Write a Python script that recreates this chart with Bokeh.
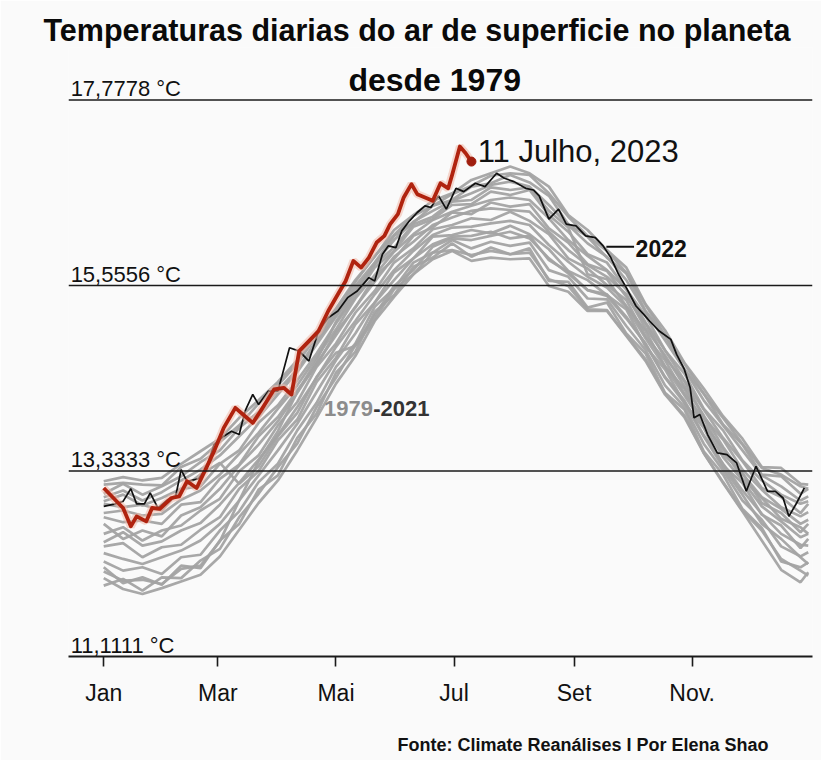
from bokeh.plotting import figure
from bokeh.models import Range1d, FixedTicker, Label, Span, Title
from bokeh.embed import file_html
from bokeh.resources import INLINE

# ---------------- data ----------------
# day of year (0 = 1 Jan)
gray_days = [0, 10, 20, 30, 40, 50, 60, 70, 80, 90, 100, 110, 120, 130, 140, 150, 160, 170, 180,
             190, 200, 210, 220, 230, 240, 250, 260, 270, 280, 290, 300, 310, 320, 330, 340, 350, 360, 364]

g01 = [12.05, 11.92, 11.86, 11.93, 12.01, 12.09, 12.31, 12.63, 12.95, 13.22, 13.58, 13.97, 14.38, 14.71, 15.13, 15.42, 15.69, 15.87, 15.97,
       15.85, 15.89, 15.87, 15.88, 15.55, 15.48, 15.25, 15.25, 14.95, 14.65, 14.25, 13.98, 13.55, 13.19, 12.85, 12.50, 12.15, 12.00, 12.12]
g02 = [12.25, 12.14, 12.18, 12.10, 12.30, 12.33, 12.62, 12.85, 13.20, 13.42, 13.82, 14.15, 14.58, 14.86, 15.30, 15.52, 15.83, 15.95, 16.10,
       16.00, 16.08, 16.03, 16.07, 15.74, 15.66, 15.40, 15.39, 15.07, 14.78, 14.36, 14.10, 13.66, 13.34, 12.98, 12.75, 12.43, 12.31, 12.36]
g03 = [12.43, 12.47, 12.30, 12.42, 12.45, 12.63, 12.78, 13.12, 13.33, 13.70, 13.95, 14.40, 14.69, 15.09, 15.35, 15.71, 15.88, 16.14, 16.16,
       16.22, 16.18, 16.27, 16.17, 15.99, 15.73, 15.62, 15.44, 15.27, 14.82, 14.55, 14.15, 13.85, 13.40, 13.19, 12.81, 12.68, 12.41, 12.52]
g04 = [12.58, 12.66, 12.50, 12.62, 12.68, 12.86, 13.00, 13.33, 13.52, 13.88, 14.16, 14.58, 14.86, 15.23, 15.49, 15.83, 16.00, 16.23, 16.28,
       16.36, 16.34, 16.44, 16.33, 16.17, 15.88, 15.76, 15.56, 15.38, 14.95, 14.66, 14.26, 13.96, 13.54, 13.31, 12.95, 12.83, 12.60, 12.70]
g05 = [12.78, 12.72, 12.74, 12.70, 12.93, 12.96, 13.24, 13.41, 13.75, 13.98, 14.30, 14.60, 15.00, 15.29, 15.66, 15.87, 16.15, 16.25, 16.43,
       16.41, 16.55, 16.50, 16.53, 16.24, 16.07, 15.81, 15.73, 15.42, 15.10, 14.69, 14.41, 13.98, 13.71, 13.35, 13.11, 12.90, 12.79, 12.84]
g06 = [12.94, 12.90, 12.93, 12.86, 13.12, 13.15, 13.42, 13.58, 13.91, 14.12, 14.42, 14.74, 15.10, 15.42, 15.77, 15.97, 16.26, 16.35, 16.52,
       16.53, 16.68, 16.64, 16.70, 16.40, 16.20, 15.93, 15.83, 15.51, 15.19, 14.78, 14.50, 14.08, 13.82, 13.46, 13.22, 13.05, 12.94, 12.97]
g07 = [13.06, 13.18, 13.05, 13.15, 13.27, 13.44, 13.58, 13.85, 14.04, 14.30, 14.55, 14.90, 15.20, 15.55, 15.83, 16.15, 16.31, 16.51, 16.58,
       16.74, 16.78, 16.88, 16.79, 16.63, 16.29, 16.14, 15.89, 15.70, 15.25, 14.96, 14.55, 14.26, 13.89, 13.65, 13.29, 13.27, 13.06, 13.12]
g08 = [13.21, 13.26, 13.22, 13.25, 13.42, 13.57, 13.72, 13.97, 14.18, 14.40, 14.66, 15.00, 15.28, 15.62, 15.90, 16.22, 16.40, 16.57, 16.66,
       16.82, 16.90, 16.98, 16.90, 16.74, 16.40, 16.22, 15.98, 15.77, 15.33, 15.02, 14.63, 14.32, 13.99, 13.72, 13.38, 13.37, 13.18, 13.17]
g09 = [12.13, 12.02, 12.03, 11.98, 12.16, 12.20, 12.49, 12.98, 13.45, 13.81, 14.28, 14.66, 15.12, 15.47, 15.81, 16.01, 16.29, 16.38, 16.56,
       16.58, 16.73, 16.70, 16.73, 16.45, 16.25, 15.69, 15.63, 15.31, 15.01, 14.59, 14.32, 13.89, 13.60, 13.24, 13.01, 12.76, 12.66, 12.58]
g10 = [12.97, 13.05, 12.92, 13.01, 13.12, 13.29, 13.43, 13.18, 13.39, 13.75, 14.03, 14.46, 14.75, 14.83, 15.15, 15.51, 15.69, 15.95, 15.98,
       15.92, 15.97, 15.93, 15.95, 15.63, 15.55, 15.27, 15.26, 14.96, 14.67, 14.26, 14.00, 13.55, 13.20, 12.86, 12.62, 12.28, 12.14, 12.08]
g11 = [12.18, 11.99, 12.06, 11.97, 12.20, 12.17, 12.50, 12.70, 13.11, 13.28, 13.73, 14.02, 14.51, 14.76, 15.24, 15.44, 15.78, 15.89, 16.06,
       15.90, 16.01, 15.93, 16.00, 15.61, 15.60, 15.29, 15.35, 14.98, 14.74, 14.27, 14.07, 13.57, 13.29, 12.88, 12.65, 12.25, 12.18, 12.24]
g12 = [12.48, 12.60, 12.44, 12.49, 12.62, 12.71, 12.93, 13.19, 13.47, 13.76, 14.10, 14.45, 14.82, 15.13, 15.45, 15.74, 15.97, 16.16, 16.25,
       16.26, 16.30, 16.33, 16.28, 16.04, 15.84, 15.66, 15.53, 15.30, 14.92, 14.58, 14.24, 13.88, 13.50, 13.22, 12.91, 12.73, 12.54, 12.58]
g13 = [12.83, 12.86, 12.80, 12.82, 12.99, 13.10, 13.29, 13.54, 13.79, 14.08, 14.36, 14.70, 15.03, 15.40, 15.68, 15.96, 16.17, 16.34, 16.44,
       16.51, 16.58, 16.61, 16.58, 16.36, 16.10, 15.91, 15.74, 15.51, 15.11, 14.78, 14.42, 14.07, 13.73, 13.45, 13.13, 13.02, 12.83, 12.94]
g14 = [13.17, 13.19, 13.17, 13.16, 13.38, 13.48, 13.68, 13.88, 14.14, 14.36, 14.62, 14.95, 15.24, 15.60, 15.91, 16.16, 16.39, 16.51, 16.65,
       16.75, 16.87, 16.90, 16.88, 16.66, 16.38, 16.15, 15.97, 15.71, 15.32, 14.96, 14.62, 14.26, 13.97, 13.66, 13.37, 13.29, 13.15, 13.12]
g15 = [11.96, 12.04, 11.90, 12.06, 12.05, 12.26, 12.40, 12.78, 13.06, 13.38, 13.66, 14.10, 14.45, 14.84, 15.20, 15.55, 15.74, 16.02, 16.12,
       16.10, 16.15, 16.20, 16.12, 15.88, 15.70, 15.50, 15.45, 15.18, 14.85, 14.45, 14.15, 13.75, 13.38, 13.05, 12.70, 12.52, 12.30, 12.22]
g16 = [12.70, 12.52, 12.62, 12.55, 12.80, 12.90, 13.12, 13.40, 13.65, 13.93, 14.27, 14.62, 14.96, 15.30, 15.60, 15.90, 16.08, 16.28, 16.37,
       16.45, 16.48, 16.46, 16.44, 16.20, 15.98, 15.80, 15.66, 15.45, 15.04, 14.72, 14.35, 14.00, 13.62, 13.30, 13.02, 12.88, 12.70, 12.75]
g17 = [13.02, 13.10, 12.98, 13.08, 13.22, 13.35, 13.52, 13.75, 13.98, 14.25, 14.52, 14.85, 15.18, 15.50, 15.82, 16.10, 16.32, 16.45, 16.57,
       16.66, 16.76, 16.80, 16.74, 16.52, 16.28, 16.06, 15.90, 15.62, 15.24, 14.90, 14.55, 14.18, 13.88, 13.58, 13.28, 13.15, 12.98, 13.03]
g18 = [12.35, 12.28, 12.22, 12.30, 12.38, 12.50, 12.70, 12.98, 13.28, 13.58, 13.90, 14.28, 14.66, 14.98, 15.35, 15.62, 15.88, 16.05, 16.14,
       16.15, 16.20, 16.12, 16.15, 15.86, 15.72, 15.50, 15.43, 15.16, 14.86, 14.46, 14.18, 13.76, 13.42, 13.10, 12.82, 12.58, 12.45, 12.44]
gray_series = [g01, g15, g11, g09, g18, g02, g12, g03, g16, g04, g10, g05, g13, g06, g17, g07, g14, g08]

days_2022 = [0, 6, 10, 14, 17, 21, 24, 28, 33, 37, 40, 43, 49, 53, 57, 62, 66, 70, 73, 77,
             80, 85, 90, 96, 101, 106, 111, 116, 121, 126, 131, 137, 140, 144, 147, 151, 154, 158, 162, 166,
             169, 173, 177, 182, 186, 192, 197, 203, 207, 212, 218, 222, 225, 230, 235, 239, 244, 249, 254, 258,
             262, 266, 270, 275, 279, 282, 287, 293, 296, 300, 303, 305, 308, 312, 317, 322, 327, 332, 337, 343,
             347, 351, 354, 358, 362]
temp_2022 = [12.91, 12.94, 12.97, 13.12, 12.94, 12.94, 13.07, 12.89, 12.99, 13.01, 13.35, 13.21, 13.24, 13.37, 13.65, 13.75, 13.81, 13.77, 14.05, 14.25,
             14.13, 14.29, 14.29, 14.81, 14.77, 14.65, 15.01, 15.17, 15.25, 15.41, 15.49, 15.65, 15.61, 15.93, 16.03, 16.01, 16.21, 16.33, 16.43, 16.51,
             16.49, 16.63, 16.47, 16.72, 16.68, 16.78, 16.74, 16.90, 16.84, 16.80, 16.72, 16.70, 16.63, 16.35, 16.47, 16.29, 16.27, 16.15, 16.13, 16.03,
             15.89, 15.69, 15.53, 15.31, 15.21, 15.13, 15.01, 14.91, 14.73, 14.55, 14.33, 13.97, 14.01, 13.77, 13.55, 13.53, 13.43, 13.09, 13.39, 13.09,
             13.09, 13.01, 12.79, 12.95, 13.13]

days_2023 = [0, 5, 10, 14, 17, 22, 25, 29, 35, 39, 43, 48, 53, 57, 62, 68, 72, 77, 81, 88,
             93, 97, 101, 106, 111, 116, 121, 125, 129, 133, 137, 141, 145, 148, 152, 155, 159, 162, 166, 170,
             174, 178, 180, 184, 187, 190]
temp_2023 = [13.13, 13.01, 12.89, 12.67, 12.79, 12.73, 12.89, 12.88, 13.01, 13.03, 13.21, 13.13, 13.37, 13.57, 13.85, 14.09, 14.01, 13.91, 14.05, 14.31,
             14.33, 14.25, 14.77, 14.89, 15.01, 15.25, 15.45, 15.61, 15.85, 15.77, 15.89, 16.07, 16.15, 16.29, 16.41, 16.61, 16.77, 16.65, 16.61, 16.57,
             16.78, 16.72, 16.88, 17.22, 17.14, 17.04]

grid_values = [13.3333, 15.5556, 17.7778]
label_values = [11.1111, 13.3333, 15.5556, 17.7778]
label_texts = ["11,1111 °C", "13,3333 °C", "15,5556 °C", "17,7778 °C"]

month_days = [0, 59, 120, 181, 243, 304]
month_labels = ["Jan", "Mar", "Mai", "Jul", "Set", "Nov."]

title_line1 = "Temperaturas diarias do ar de superficie no planeta"
title_line2 = "desde 1979"
source_text = "Fonte: Climate Reanálises I Por Elena Shao"

# ---------------- figure ----------------
BG = "#fafafa"
FONT = "Liberation Sans"

p = figure(width=821, height=760, output_backend="svg", toolbar_location=None, title=None,
           x_range=Range1d(-18.2, 366.2), y_range=Range1d(11.1111, 18.4067),
           y_axis_location=None, min_border_left=68, min_border_right=9,
           min_border_top=47, min_border_bottom=104,
           background_fill_color=BG, border_fill_color=BG, outline_line_color=None)
p.xgrid.visible = False
p.ygrid.visible = False

# title line 1 (above the frame)
p.add_layout(Title(text=title_line1, align="left", offset=-25, standoff=1,
                   text_font=FONT, text_font_size="30.5px", text_font_style="bold",
                   text_color="#0a0a0a"), "above")

# gridlines
for v in grid_values:
    p.add_layout(Span(location=v, dimension="width", line_color="#1a1a1a", line_width=1.6))

# gray years 1979-2021
p.multi_line(xs=[gray_days] * len(gray_series), ys=gray_series,
             line_color="#a3a3a3", line_width=2.7, line_alpha=0.95)

# 2022
p.line(days_2022, temp_2022, line_color="#111111", line_width=1.7)

# 2023 (with glow)
p.line(days_2023, temp_2023, line_color="#f0b8a8", line_width=8, line_alpha=0.55)
p.line(days_2023, temp_2023, line_color="#b0230f", line_width=3.8, line_join="round")
p.scatter([days_2023[-1]], [temp_2023[-1]], size=9, fill_color="#a01e0e", line_color="#a01e0e")

# x axis
ax = p.xaxis[0]
ax.ticker = FixedTicker(ticks=month_days)
ax.major_label_overrides = {d: t for d, t in zip(month_days, month_labels)}
ax.axis_line_color = "#1a1a1a"
ax.axis_line_width = 2.2
ax.major_tick_line_color = "#1a1a1a"
ax.major_tick_line_width = 1.6
ax.major_tick_in = 0
ax.major_tick_out = 10
ax.minor_tick_line_color = None
ax.major_label_standoff = 13
ax.major_label_text_font = FONT
ax.major_label_text_font_size = "23px"
ax.major_label_text_color = "#111111"

# source (below the axis; empty first line pushes it down)
p.add_layout(Title(text="\n" + source_text, align="left", offset=329, standoff=8,
                   text_font=FONT, text_font_size="18px", text_font_style="bold",
                   text_color="#111111"), "below")

# gridline labels
for v, t in zip(label_values, label_texts):
    p.add_layout(Label(x=-17.1, y=v + 0.132, text=t, text_font=FONT, text_font_size="22px",
                       text_color="#111111", text_baseline="alphabetic", text_align="left"))

# title line 2
p.add_layout(Label(x=171.0, y=18.0174, text=title_line2, text_font=FONT, text_font_size="32px",
                   text_font_style="bold", text_color="#0a0a0a", text_align="center",
                   text_baseline="alphabetic"))

# annotations
p.add_layout(Label(x=193.2, y=17.161, text="11 Julho, 2023", text_font=FONT, text_font_size="31px",
                   text_color="#111111", text_align="left", text_baseline="alphabetic"))
p.segment(x0=[259.7], y0=[16.02], x1=[274.0], y1=[16.02], line_color="#111111", line_width=2)
p.add_layout(Label(x=274.8, y=15.999, text="2022", text_font=FONT, text_font_size="23px",
                   text_font_style="bold", text_color="#111111", text_align="left",
                   text_baseline="middle"))
p.add_layout(Label(x=113.8, y=14.082, text="1979", text_font=FONT, text_font_size="22px",
                   text_font_style="bold", text_color="#8c8c8c", text_align="left",
                   text_baseline="middle"))
p.add_layout(Label(x=139.2, y=14.082, text="-2021", text_font=FONT, text_font_size="22px",
                   text_font_style="bold", text_color="#333333", text_align="left",
                   text_baseline="middle"))

open("out.html", "w").write(file_html(p, INLINE))
